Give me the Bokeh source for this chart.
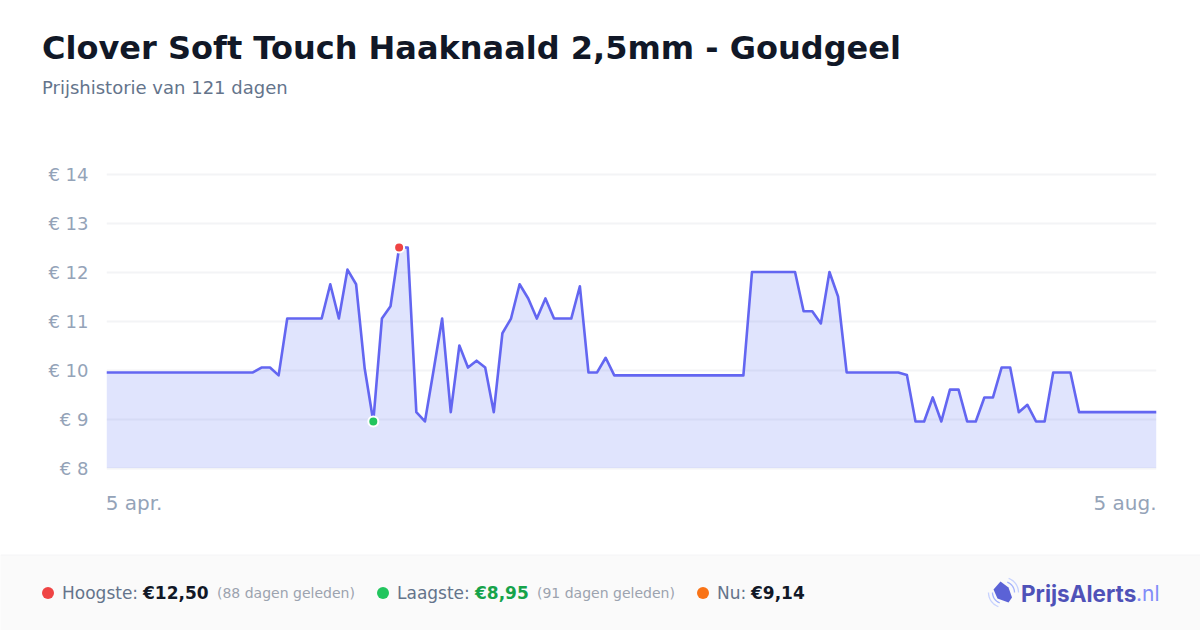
import math
from bokeh.plotting import figure
from bokeh.layouts import column
from bokeh.models import Range1d, Label, FixedTicker, ColumnDataSource
from bokeh.embed import file_html
from bokeh.resources import INLINE

title = "Clover Soft Touch Haaknaald 2,5mm - Goudgeel"
subtitle = "Prijshistorie van 121 dagen"
x_labels = ["5 apr.", "5 aug."]
y_ticks = [8, 9, 10, 11, 12, 13, 14]
y_labels = {t: f"€ {t}" for t in y_ticks}

prices = [
    9.95, 9.95, 9.95, 9.95, 9.95, 9.95, 9.95, 9.95, 9.95, 9.95,
    9.95, 9.95, 9.95, 9.95, 9.95, 9.95, 9.95, 9.95, 10.05, 10.05,
    9.89, 11.05, 11.05, 11.05, 11.05, 11.05, 11.75, 11.05, 12.05, 11.75,
    10.03, 8.95, 11.05, 11.30, 12.50, 12.50, 9.14, 8.95, 9.99, 11.05,
    9.14, 10.50, 10.05, 10.19, 10.05, 9.14, 10.75, 11.05, 11.75, 11.46,
    11.05, 11.46, 11.05, 11.05, 11.05, 11.71, 9.95, 9.95, 10.25, 9.89,
    9.89, 9.89, 9.89, 9.89, 9.89, 9.89, 9.89, 9.89, 9.89, 9.89,
    9.89, 9.89, 9.89, 9.89, 9.89, 12.00, 12.00, 12.00, 12.00, 12.00,
    12.00, 11.20, 11.20, 10.95, 12.00, 11.50, 9.95, 9.95, 9.95, 9.95,
    9.95, 9.95, 9.95, 9.90, 8.95, 8.95, 9.44, 8.95, 9.60, 9.60,
    8.95, 8.95, 9.44, 9.44, 10.05, 10.05, 9.14, 9.29, 8.95, 8.95,
    9.95, 9.95, 9.95, 9.14, 9.14, 9.14, 9.14, 9.14, 9.14, 9.14,
    9.14, 9.14, 9.14,
]
days = list(range(len(prices)))
base = [8] * len(prices)
high_day, low_day = [34], [31]
high_price, low_price = [12.50], [8.95]

W, H = 1200, 630
TOP, FOOT = 160, 554     # chart figure spans these canvas rows
L, R, FB = 106, 1156, 520
PX = 49.0


def panel(y0, y1, bg):
    f = figure(width=W, height=y1 - y0, output_backend="svg", toolbar_location=None,
               x_range=Range1d(0, W), y_range=Range1d(y1, y0),
               x_axis_type=None, y_axis_type=None, min_border=0,
               background_fill_color=bg, border_fill_color=bg, outline_line_color=None)
    f.grid.visible = False
    return f


def text(f, s, x, y, size, color, bold=False, align="left", font="DejaVu Sans"):
    f.add_layout(Label(x=x, y=y, text=s, text_font=font, text_font_size=f"{size}px",
                       text_color=color, text_align=align, text_baseline="middle",
                       text_font_style="bold" if bold else "normal"))


# Header
head = panel(0, TOP, "white")
text(head, title, 41.5, 47.5, 32, "#111827", True)
text(head, subtitle, 41.5, 86.5, 18, "#64748b")

# Chart
p = figure(width=W, height=FOOT - TOP, output_backend="svg", toolbar_location=None,
           x_range=Range1d(0, len(prices) - 1),
           y_range=Range1d(8 - (FB - 467.5) / PX, 14 + (173.5 - TOP) / PX),
           min_border_left=L, min_border_right=W - R, min_border_top=0, min_border_bottom=FOOT - FB,
           background_fill_color="white", border_fill_color="white", outline_line_color=None)
p.xaxis.visible = False
p.xgrid.visible = False
ax = p.yaxis[0]
ax.ticker = FixedTicker(ticks=y_ticks)
ax.major_label_overrides = y_labels
ax.axis_line_color = None
ax.major_tick_line_color = None
ax.minor_tick_line_color = None
ax.major_label_standoff = 12
ax.major_label_text_font = "DejaVu Sans"
ax.major_label_text_font_size = "18px"
ax.major_label_text_color = "#94a3b8"
g = p.ygrid[0]
g.ticker = FixedTicker(ticks=y_ticks)
g.grid_line_color = "#f3f4f6"
g.grid_line_width = 2

src = ColumnDataSource(dict(day=days, price=prices, base=base))
p.varea(x="day", y1="base", y2="price", source=src, fill_color="#6478f5", fill_alpha=0.2)
p.line(x="day", y="price", source=src, line_color="#6366f1", line_width=2.6, line_join="round")
p.scatter(high_day, high_price, size=10, fill_color="#ef4444", line_color="white", line_width=2)
p.scatter(low_day, low_price, size=10, fill_color="#22c55e", line_color="white", line_width=2)

date_y = 8 - (502.5 - 467.5) / PX
text(p, x_labels[0], -0.1, date_y, 20, "#94a3b8")
text(p, x_labels[1], len(prices) - 1, date_y, 20, "#94a3b8", align="right")

# Footer
foot = panel(FOOT, H, "#fafafa")
foot.segment([0], [554.5], [W], [554.5], line_color="#f3f4f6", line_width=1)
for cx, color in [(47.5, "#ef4444"), (382.5, "#22c55e"), (702.5, "#f97316")]:
    foot.scatter([cx], [592.5], size=12, fill_color=color, line_color=None)

text(foot, "Hoogste:", 61.5, 592.5, 17, "#64748b")
text(foot, "€12,50", 142.5, 592.5, 17, "#111827", True)
text(foot, "(88 dagen geleden)", 216.5, 592.5, 14, "#9ca3af")
text(foot, "Laagste:", 396.5, 592.5, 17, "#64748b")
text(foot, "€8,95", 474.5, 592.5, 17, "#16a34a", True)
text(foot, "(91 dagen geleden)", 536.5, 592.5, 14, "#9ca3af")
text(foot, "Nu:", 716.5, 592.5, 17, "#64748b")
text(foot, "€9,14", 750.5, 592.5, 17, "#111827", True)

# Logo
foot.patch([1000, 1008, 1011.5, 1008, 997, 993], [581, 587, 597, 602, 598, 589], fill_color="#5b62d6", line_color=None)
for r, c in [(11, "#a5b4fc"), (15, "#c7d2fe")]:
    for a0, a1 in [(-70, 0), (110, 180)]:
        angs = [math.radians(a0 + (a1 - a0) * i / 12) for i in range(13)]
        foot.line([1003 + r * math.cos(a) for a in angs], [592 + r * math.sin(a) for a in angs],
                  line_color=c, line_width=1.3)
text(foot, "PrijsAlerts", 1020.5, 592.5, 22.5, "#4f52b8", True, font="Inter")
text(foot, ".nl", 1135.5, 592.5, 21, "#818cf8", font="Inter")

page = column(column(head), column(p), column(foot), spacing=0)
page.styles = {"position": "absolute", "left": "0px", "top": "0px"}
open("out.html", "w").write(file_html(page, INLINE))
